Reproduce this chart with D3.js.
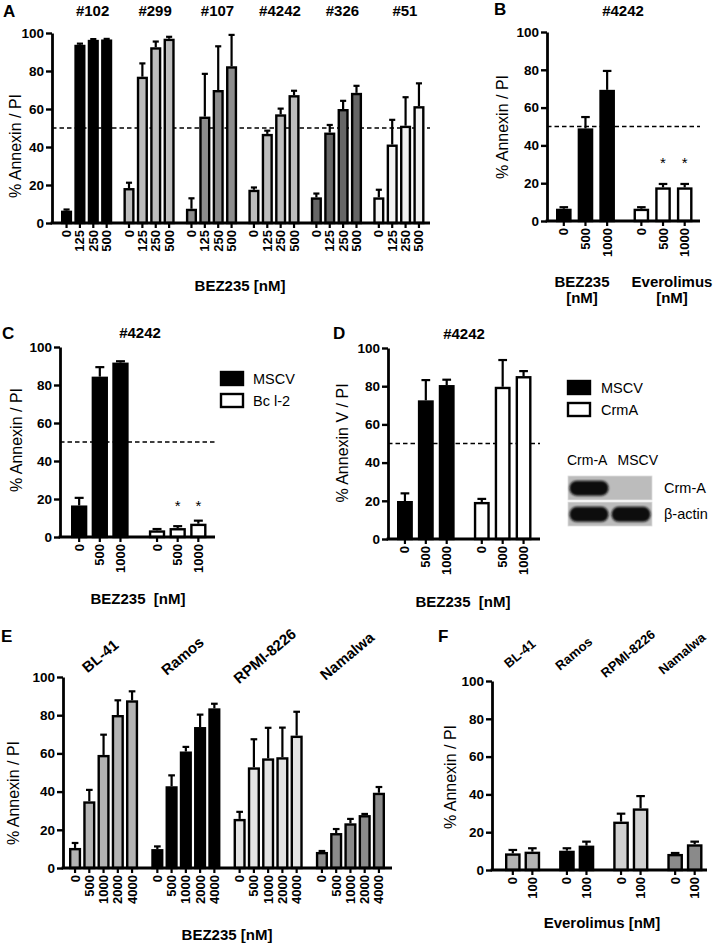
<!DOCTYPE html>
<html><head><meta charset="utf-8">
<script src="https://cdn.jsdelivr.net/npm/d3@7"></script>
<style>body{margin:0;background:#fff} svg{display:block;font-family:"Liberation Sans",Arial,sans-serif}</style>
</head><body><svg id="c" width="726" height="947"></svg>
<script>
// ---------- DATA ----------
const yTicks = [0, 20, 40, 60, 80, 100];
const threshold = 50;

// Panel A
const aGroups = ["#102", "#299", "#107", "#4242", "#326", "#51"];
const aDoses = ["0", "125", "250", "500"];
const aMeans = [[6.5, 93.8, 96.4, 96.6], [18.4, 77, 92.5, 97], [7.5, 56, 70, 82.5], [17.5, 46.9, 57.2, 67.3], [13.5, 47.6, 60, 68.5], [13.5, 41.3, 51.2, 61.5]];
const aErrs = [[0.6, 0.6, 0.4, 0.3], [2.8, 7, 3, 1], [5.5, 22.5, 23, 16.5], [1.2, 1.7, 3, 2.3], [2, 4, 4.3, 3.7], [4, 13, 15, 12]];
const aFills = ["#000000", "#bdbdbd", "#8c8c8c", "#bdbdbd", "#666666", "#f2f2f2"];

// Panel B
const bGroups = ["BEZ235", "Everolimus"];
const bDoses = ["0", "500", "1000"];
const bMeans = [[6.5, 49, 69.4], [6.5, 17.8, 17.8]];
const bErrs = [[0.8, 6, 10], [0.8, 1.8, 1.8]];
const bFills = ["#000000", "#ffffff"];
const bStars = [[false, false, false], [false, true, true]];

// Panel C
const cGroups = ["MSCV", "Bc l-2"];
const cDoses = ["0", "500", "1000"];
const cMeans = [[16.6, 84.4, 91.8], [3.5, 4.7, 7]];
const cErrs = [[4, 5, 0.7], [0.7, 1, 1.6]];
const cFills = ["#000000", "#ffffff"];
const cStars = [[false, false, false], [false, true, true]];

// Panel D
const dGroups = ["MSCV", "CrmA"];
const dDoses = ["0", "500", "1000"];
const dMeans = [[19.9, 72.6, 80.6], [19.4, 79.7, 85.3]];
const dErrs = [[4, 10.6, 2.8], [1.6, 14, 2.6]];
const dFills = ["#000000", "#ffffff"];
const blotLanes = ["Crm-A", "MSCV"];
const blotRows = ["Crm-A", "β-actin"];
const blotSignal = [[1, 0], [1, 1]];

// Panel E
const eGroups = ["BL-41", "Ramos", "RPMI-8226", "Namalwa"];
const eDoses = ["0", "500", "1000", "2000", "4000"];
const eMeans = [[10.5, 34.9, 59.2, 80.1, 87.8], [9.9, 42.8, 61, 73.8, 83.6], [25.7, 52.7, 57.4, 58, 69.3], [8.4, 18.3, 23.4, 27.7, 39.4]];
const eErrs = [[2.6, 6, 10.6, 7.7, 4.7], [1.4, 5.7, 2.4, 6.5, 2.4], [3.7, 14.7, 16, 15.5, 12.5], [0.5, 2.1, 2.3, 0.6, 3]];
const eFills = ["#b3b3b3", "#000000", "#e3e3e3", "#8a8a8a"];

// Panel F
const fGroups = ["BL-41", "Ramos", "RPMI-8226", "Namalwa"];
const fDoses = ["0", "100"];
const fMeans = [[8.8, 9.7], [10.2, 12.9], [25.6, 32.6], [8.5, 13.6]];
const fErrs = [[1.8, 1.8], [1.3, 2.1], [4.2, 6.5], [0.5, 1.4]];
const fFills = ["#b3b3b3", "#000000", "#d0d0d0", "#8a8a8a"];

// ---------- DRAW ----------
const svg = d3.select("#c");
const FONT = '"Liberation Sans", Arial, sans-serif';

function txt(g, x, y, s, size, weight, anchor, rot) {
  const t = g.append("text").text(s)
    .attr("font-size", size).attr("font-weight", weight || "normal")
    .attr("text-anchor", anchor || "middle").attr("fill", "#000")
    .attr("font-family", FONT);
  if (rot) t.attr("transform", "translate(" + x + "," + y + ") rotate(" + rot + ")");
  else t.attr("x", x).attr("y", y);
  return t;
}

function panel(o) {
  const g = svg.append("g");
  const y = d3.scaleLinear().domain([0, 100]).range([o.y0, o.y1]);
  const xo = d3.scaleBand().domain(o.groups).range(o.xr).paddingInner(o.po).paddingOuter(0);
  const xi = d3.scaleBand().domain(o.doses).range([0, xo.bandwidth()]).paddingInner(o.pi).paddingOuter(0);
  const data = [];
  o.groups.forEach((gr, gi) => o.doses.forEach((ds, di) => data.push({
    gr, ds, v: o.means[gi][di], e: o.errs[gi][di], fill: o.fills[gi],
    star: o.stars ? o.stars[gi][di] : false
  })));
  const cx = d => xo(d.gr) + xi(d.ds) + xi.bandwidth() / 2;
  const sw = 2.4;

  if (o.dash) g.append("line").attr("x1", o.ax).attr("x2", o.xEnd)
    .attr("y1", y(threshold)).attr("y2", y(threshold))
    .attr("stroke", "#000").attr("stroke-width", 1.7).attr("stroke-dasharray", "4.5,3");

  const capW = Math.min(xi.bandwidth() * 0.55, 9);
  g.selectAll("line.eb").data(data).join("line").attr("class", "eb")
    .attr("x1", cx).attr("x2", cx).attr("y1", d => y(d.v)).attr("y2", d => y(d.v + d.e))
    .attr("stroke", "#000").attr("stroke-width", 2.2);
  g.selectAll("line.cap").data(data).join("line").attr("class", "cap")
    .attr("x1", d => cx(d) - capW / 2).attr("x2", d => cx(d) + capW / 2)
    .attr("y1", d => y(d.v + d.e)).attr("y2", d => y(d.v + d.e))
    .attr("stroke", "#000").attr("stroke-width", 2.2);
  g.selectAll("rect.bar").data(data).join("rect").attr("class", "bar")
    .attr("x", d => xo(d.gr) + xi(d.ds) + sw / 2).attr("width", xi.bandwidth() - sw)
    .attr("y", d => y(d.v) + sw / 2).attr("height", d => Math.max(0, y(0) - y(d.v) - sw / 2))
    .attr("fill", d => d.fill).attr("stroke", "#000").attr("stroke-width", sw);
  g.selectAll("text.star").data(data.filter(d => d.star)).join("text").attr("class", "star")
    .attr("x", cx).attr("y", y(o.starY)).text("*").attr("font-family", FONT)
    .attr("font-size", 15).attr("text-anchor", "middle");

  const ya = g.append("g").attr("transform", `translate(${o.ax},0)`)
    .call(d3.axisLeft(y).tickValues(yTicks).tickSize(6).tickSizeOuter(0).tickPadding(2).tickFormat(d3.format("d")));
  ya.select(".domain").attr("stroke-width", 2.8);
  ya.selectAll(".tick line").attr("stroke-width", 2.4);
  ya.selectAll(".tick text").attr("font-size", 13.5).attr("font-weight", "bold").attr("font-family", FONT).attr("fill", "#000");
  g.append("line").attr("x1", o.ax - 1.4).attr("x2", o.xEnd).attr("y1", o.y0).attr("y2", o.y0)
    .attr("stroke", "#000").attr("stroke-width", 2.8);
  g.selectAll("line.xt").data(data).join("line").attr("class", "xt")
    .attr("x1", cx).attr("x2", cx).attr("y1", o.y0).attr("y2", o.y0 + 5)
    .attr("stroke", "#000").attr("stroke-width", 2.2);
  g.selectAll("text.xl").data(data).join("text").attr("class", "xl")
    .attr("transform", d => `translate(${cx(d) + 4.5},${o.y0 + 7}) rotate(-90)`)
    .attr("text-anchor", "end").attr("font-size", 13).attr("font-weight", "bold")
    .attr("font-family", FONT).text(d => d.ds);

  txt(g, o.ylx, o.yly, o.ylabel, 16, "normal", "middle", -90);
  return { g, y, xo, xi };
}

// Panel A
const A = panel({
  groups: aGroups, doses: aDoses, means: aMeans, errs: aErrs, fills: aFills,
  y0: 223, y1: 33, xr: [61, 424.5], po: 0.18, pi: 0.17, ax: 52, xEnd: 430, dash: true,
  ylabel: "% Annexin / PI", ylx: 21, yly: 146
});
aGroups.forEach(gr => txt(A.g, A.xo(gr) + A.xo.bandwidth() / 2 + 6, 16, gr, 15, "bold"));
txt(A.g, 240, 291, "BEZ235 [nM]", 15, "bold");
txt(A.g, 3, 17, "A", 17, "bold", "start");

// Panel B
const B = panel({
  groups: bGroups, doses: bDoses, means: bMeans, errs: bErrs, fills: bFills, stars: bStars, starY: 28,
  y0: 221, y1: 32, xr: [556, 692.5], po: 0.24, pi: 0.28, ax: 547, xEnd: 700, dash: true,
  ylabel: "% Annexin / PI", ylx: 508, yly: 127
});
txt(B.g, 623, 16, "#4242", 15, "bold");
txt(B.g, 582, 287, "BEZ235", 15, "bold");
txt(B.g, 582, 303, "[nM]", 15, "bold");
txt(B.g, 672, 287, "Everolimus", 15, "bold");
txt(B.g, 672, 303, "[nM]", 15, "bold");
txt(B.g, 494, 15, "B", 17, "bold", "start");

// Panel C
const C = panel({
  groups: cGroups, doses: cDoses, means: cMeans, errs: cErrs, fills: cFills, stars: cStars, starY: 13.5,
  y0: 537, y1: 347, xr: [71, 206.5], po: 0.26, pi: 0.21, ax: 60, xEnd: 215, dash: true,
  ylabel: "% Annexin / PI", ylx: 22, yly: 440
});
txt(C.g, 140, 338, "#4242", 15, "bold");
txt(C.g, 138, 604, "BEZ235  [nM]", 15, "bold").style("white-space", "pre");
txt(C.g, 2, 339, "C", 17, "bold", "start");
cGroups.forEach((gr, i) => {
  C.g.append("rect").attr("x", 221).attr("y", 372 + i * 22).attr("width", 22).attr("height", 13)
    .attr("fill", cFills[i]).attr("stroke", "#000").attr("stroke-width", 2.4);
  txt(C.g, 253, 384 + i * 22, gr, 14.5, "normal", "start");
});

// Panel D
const D = panel({
  groups: dGroups, doses: dDoses, means: dMeans, errs: dErrs, fills: dFills,
  y0: 539, y1: 348, xr: [397, 531.5], po: 0.25, pi: 0.24, ax: 388, xEnd: 540, dash: true,
  ylabel: "% Annexin V / PI", ylx: 348, yly: 443
});
txt(D.g, 464, 339, "#4242", 15, "bold");
txt(D.g, 463, 607, "BEZ235  [nM]", 15, "bold").style("white-space", "pre");
txt(D.g, 333, 339, "D", 17, "bold", "start");
dGroups.forEach((gr, i) => {
  D.g.append("rect").attr("x", 568).attr("y", 381 + i * 22).attr("width", 22).attr("height", 13)
    .attr("fill", dFills[i]).attr("stroke", "#000").attr("stroke-width", 2.4);
  txt(D.g, 601, 393 + i * 22, gr, 14.5, "normal", "start");
});
// western blot inset
const defs = svg.append("defs");
defs.append("filter").attr("id", "blur").append("feGaussianBlur").attr("stdDeviation", 1.3);
const laneX = d3.scaleBand().domain(blotLanes).range([568, 652]).padding(0);
const rowY = d3.scaleBand().domain(blotRows).range([476, 526]).paddingInner(0.08);
txt(D.g, 567, 465, blotLanes[0], 14, "normal", "start");
txt(D.g, 658, 465, blotLanes[1], 14, "normal", "end");
blotRows.forEach((r, ri) => {
  D.g.append("rect").attr("x", 568).attr("y", rowY(r)).attr("width", 84).attr("height", rowY.bandwidth())
    .attr("fill", "#bcbcbc").attr("stroke", "#dddddd").attr("stroke-width", 0.8);
  blotLanes.forEach((l, li) => {
    if (blotSignal[ri][li] > 0) {
      D.g.append("rect").attr("x", laneX(l) + 1.5).attr("y", rowY(r) + rowY.bandwidth() * 0.2)
        .attr("width", laneX.bandwidth() - 3).attr("height", rowY.bandwidth() * 0.62)
        .attr("rx", 7).attr("fill", "#111").attr("filter", "url(#blur)");
    }
  });
  txt(D.g, 664, rowY(r) + rowY.bandwidth() / 2 + 5, r, 14.5, "normal", "start");
});

// Panel E
const E = panel({
  groups: eGroups, doses: eDoses, means: eMeans, errs: eErrs, fills: eFills,
  y0: 868, y1: 677, xr: [69, 385], po: 0.16, pi: 0.15, ax: 63, xEnd: 392, dash: false,
  ylabel: "% Annexin / PI", ylx: 19, yly: 793
});
eGroups.forEach(gr => txt(E.g, E.xo(gr) + E.xo.bandwidth() / 2, 660, gr, 15, "bold", "middle", -40));
txt(E.g, 227, 940, "BEZ235 [nM]", 15, "bold");
txt(E.g, 1, 642, "E", 17, "bold", "start");

// Panel F
const F = panel({
  groups: fGroups, doses: fDoses, means: fMeans, errs: fErrs, fills: fFills,
  y0: 870, y1: 681, xr: [505, 702.5], po: 0.35, pi: 0.2, ax: 492, xEnd: 707, dash: false,
  ylabel: "% Annexin / PI", ylx: 456, yly: 777
});
fGroups.forEach(gr => txt(F.g, F.xo(gr) + F.xo.bandwidth() / 2, 657, gr, 13, "bold", "middle", -40));
txt(F.g, 602, 928, "Everolimus [nM]", 15, "bold");
txt(F.g, 438, 642, "F", 17, "bold", "start");
</script></body></html>
